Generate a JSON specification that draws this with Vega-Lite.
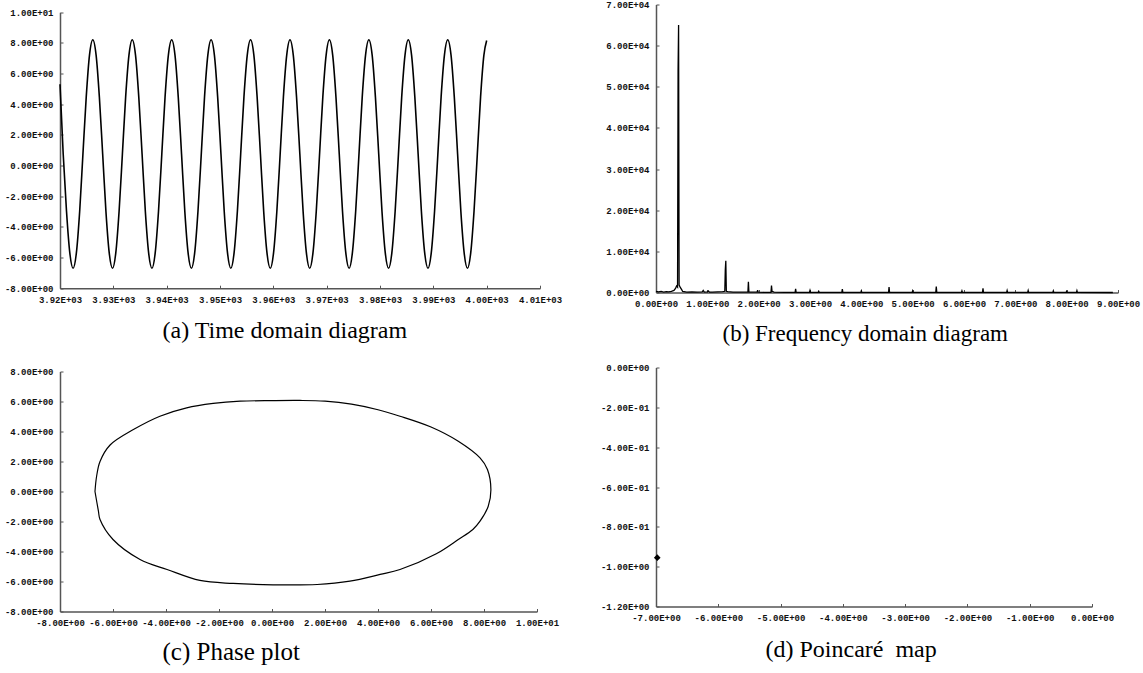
{
  "$schema": "https://vega.github.io/schema/vega-lite/v6.json",
  "padding": {"left": 4, "top": 0.5, "right": 5, "bottom": 5},
  "background": "white",
  "columns": 2,
  "bounds": "flush",
  "spacing": {"row": 75, "column": 116},
  "datasets": {
    "ts": [
      {"t": 3920, "v": 5.3}, {"t": 3920.6, "v": 0.75}, {"t": 3921.22, "v": -2.98}, {"t": 3921.84, "v": -5.7}, {"t": 3922.45, "v": -6.7}, {"t": 3923.07, "v": -5.7}, {"t": 3923.69, "v": -2.98}, {"t": 3924.3, "v": 0.75}, {"t": 3924.92, "v": 4.48}, {"t": 3925.53, "v": 7.2},
      {"t": 3926.15, "v": 8.2}, {"t": 3926.77, "v": 7.2}, {"t": 3927.38, "v": 4.48}, {"t": 3928.0, "v": 0.75}, {"t": 3928.61, "v": -2.98}, {"t": 3929.23, "v": -5.7}, {"t": 3929.85, "v": -6.7}, {"t": 3930.46, "v": -5.7}, {"t": 3931.08, "v": -2.98}, {"t": 3931.7, "v": 0.75}, {"t": 3932.31, "v": 4.48}, {"t": 3932.93, "v": 7.2},
      {"t": 3933.54, "v": 8.2}, {"t": 3934.16, "v": 7.2}, {"t": 3934.77, "v": 4.48}, {"t": 3935.39, "v": 0.75}, {"t": 3936.0, "v": -2.98}, {"t": 3936.62, "v": -5.7}, {"t": 3937.24, "v": -6.7}, {"t": 3937.85, "v": -5.7}, {"t": 3938.47, "v": -2.98}, {"t": 3939.09, "v": 0.75}, {"t": 3939.7, "v": 4.48}, {"t": 3940.32, "v": 7.2},
      {"t": 3940.94, "v": 8.2}, {"t": 3941.56, "v": 7.2}, {"t": 3942.17, "v": 4.48}, {"t": 3942.79, "v": 0.75}, {"t": 3943.4, "v": -2.98}, {"t": 3944.02, "v": -5.7}, {"t": 3944.64, "v": -6.7}, {"t": 3945.25, "v": -5.7}, {"t": 3945.87, "v": -2.98}, {"t": 3946.49, "v": 0.75}, {"t": 3947.1, "v": 4.48}, {"t": 3947.72, "v": 7.2},
      {"t": 3948.33, "v": 8.2}, {"t": 3948.95, "v": 7.2}, {"t": 3949.56, "v": 4.48}, {"t": 3950.18, "v": 0.75}, {"t": 3950.79, "v": -2.98}, {"t": 3951.41, "v": -5.7}, {"t": 3952.03, "v": -6.7}, {"t": 3952.64, "v": -5.7}, {"t": 3953.26, "v": -2.98}, {"t": 3953.88, "v": 0.75}, {"t": 3954.49, "v": 4.48}, {"t": 3955.11, "v": 7.2},
      {"t": 3955.73, "v": 8.2}, {"t": 3956.35, "v": 7.2}, {"t": 3956.96, "v": 4.48}, {"t": 3957.58, "v": 0.75}, {"t": 3958.19, "v": -2.98}, {"t": 3958.81, "v": -5.7}, {"t": 3959.43, "v": -6.7}, {"t": 3960.04, "v": -5.7}, {"t": 3960.66, "v": -2.98}, {"t": 3961.28, "v": 0.75}, {"t": 3961.89, "v": 4.48}, {"t": 3962.51, "v": 7.2},
      {"t": 3963.12, "v": 8.2}, {"t": 3963.74, "v": 7.2}, {"t": 3964.35, "v": 4.48}, {"t": 3964.97, "v": 0.75}, {"t": 3965.58, "v": -2.98}, {"t": 3966.2, "v": -5.7}, {"t": 3966.82, "v": -6.7}, {"t": 3967.43, "v": -5.7}, {"t": 3968.05, "v": -2.98}, {"t": 3968.67, "v": 0.75}, {"t": 3969.28, "v": 4.48}, {"t": 3969.9, "v": 7.2},
      {"t": 3970.51, "v": 8.2}, {"t": 3971.13, "v": 7.2}, {"t": 3971.74, "v": 4.48}, {"t": 3972.36, "v": 0.75}, {"t": 3972.97, "v": -2.98}, {"t": 3973.59, "v": -5.7}, {"t": 3974.21, "v": -6.7}, {"t": 3974.82, "v": -5.7}, {"t": 3975.44, "v": -2.98}, {"t": 3976.06, "v": 0.75}, {"t": 3976.67, "v": 4.48}, {"t": 3977.29, "v": 7.2},
      {"t": 3977.91, "v": 8.2}, {"t": 3978.53, "v": 7.2}, {"t": 3979.14, "v": 4.48}, {"t": 3979.76, "v": 0.75}, {"t": 3980.37, "v": -2.98}, {"t": 3980.99, "v": -5.7}, {"t": 3981.61, "v": -6.7}, {"t": 3982.22, "v": -5.7}, {"t": 3982.84, "v": -2.98}, {"t": 3983.46, "v": 0.75}, {"t": 3984.07, "v": 4.48}, {"t": 3984.69, "v": 7.2},
      {"t": 3985.3, "v": 8.2}, {"t": 3985.92, "v": 7.2}, {"t": 3986.53, "v": 4.48}, {"t": 3987.15, "v": 0.75}, {"t": 3987.76, "v": -2.98}, {"t": 3988.38, "v": -5.7}, {"t": 3989.0, "v": -6.7}, {"t": 3989.61, "v": -5.7}, {"t": 3990.23, "v": -2.98}, {"t": 3990.85, "v": 0.75}, {"t": 3991.46, "v": 4.48}, {"t": 3992.08, "v": 7.2},
      {"t": 3992.7, "v": 8.2}, {"t": 3993.32, "v": 7.2}, {"t": 3993.93, "v": 4.48}, {"t": 3994.55, "v": 0.75}, {"t": 3995.16, "v": -2.98}, {"t": 3995.78, "v": -5.7}, {"t": 3996.4, "v": -6.7}, {"t": 3997.01, "v": -5.7}, {"t": 3997.63, "v": -2.98}, {"t": 3998.25, "v": 0.75}, {"t": 3998.86, "v": 4.48}, {"t": 3999.48, "v": 7.2},
      {"t": 4000.0, "v": 8.15}
    ],
    "spec": [
      {"f": 0, "a": 300}, {"f": 0.05, "a": 150}, {"f": 0.1, "a": 250}, {"f": 0.15, "a": 100}, {"f": 0.2, "a": 200}, {"f": 0.25, "a": 150}, {"f": 0.3, "a": 300}, {"f": 0.35, "a": 500}, {"f": 0.38, "a": 1000}, {"f": 0.4, "a": 1600}, {"f": 0.42, "a": 1300},
      {"f": 0.43, "a": 54000}, {"f": 0.44, "a": 65000}, {"f": 0.45, "a": 1800}, {"f": 0.47, "a": 1300}, {"f": 0.5, "a": 700}, {"f": 0.52, "a": 250}, {"f": 0.6, "a": 100}, {"f": 0.7, "a": 150}, {"f": 0.8, "a": 100}, {"f": 0.9, "a": 150}, {"f": 0.92, "a": 500}, {"f": 0.94, "a": 100}, {"f": 1.0, "a": 150}, {"f": 1.02, "a": 400}, {"f": 1.04, "a": 100}, {"f": 1.1, "a": 100}, {"f": 1.2, "a": 150}, {"f": 1.3, "a": 200}, {"f": 1.34, "a": 300},
      {"f": 1.35, "a": 5600}, {"f": 1.36, "a": 7700}, {"f": 1.37, "a": 300}, {"f": 1.4, "a": 200}, {"f": 1.5, "a": 100}, {"f": 1.6, "a": 80}, {"f": 1.7, "a": 80}, {"f": 1.79, "a": 80}, {"f": 1.8, "a": 2600}, {"f": 1.81, "a": 100}, {"f": 1.9, "a": 80}, {"f": 1.97, "a": 80}, {"f": 1.98, "a": 600}, {"f": 1.99, "a": 80}, {"f": 2.1, "a": 50}, {"f": 2.24, "a": 50}, {"f": 2.25, "a": 1700}, {"f": 2.26, "a": 300}, {"f": 2.3, "a": 100}, {"f": 2.5, "a": 50},
      {"f": 2.71, "a": 50}, {"f": 2.72, "a": 900}, {"f": 2.73, "a": 50}, {"f": 2.99, "a": 50}, {"f": 3.0, "a": 500}, {"f": 3.01, "a": 50}, {"f": 3.16, "a": 30}, {"f": 3.17, "a": 300}, {"f": 3.18, "a": 30}, {"f": 3.62, "a": 30}, {"f": 3.63, "a": 800}, {"f": 3.64, "a": 30}, {"f": 3.99, "a": 30}, {"f": 4.0, "a": 400}, {"f": 4.01, "a": 30}, {"f": 4.53, "a": 30}, {"f": 4.54, "a": 1300}, {"f": 4.55, "a": 30}, {"f": 4.99, "a": 30}, {"f": 5.0, "a": 400}, {"f": 5.01, "a": 30},
      {"f": 5.45, "a": 30}, {"f": 5.46, "a": 1450}, {"f": 5.47, "a": 30}, {"f": 5.95, "a": 30}, {"f": 5.96, "a": 400}, {"f": 5.97, "a": 30}, {"f": 6.36, "a": 30}, {"f": 6.37, "a": 1000}, {"f": 6.38, "a": 30}, {"f": 6.83, "a": 30}, {"f": 6.84, "a": 500}, {"f": 6.85, "a": 30}, {"f": 7.24, "a": 30}, {"f": 7.25, "a": 500}, {"f": 7.26, "a": 30}, {"f": 7.73, "a": 30}, {"f": 7.74, "a": 400}, {"f": 7.75, "a": 30}, {"f": 7.99, "a": 30}, {"f": 8.0, "a": 300}, {"f": 8.01, "a": 30}, {"f": 8.19, "a": 30}, {"f": 8.2, "a": 450}, {"f": 8.21, "a": 30}, {"f": 8.9, "a": 0}
    ],
    "phase": [
      {"i": 1, "x": -6.68, "y": 0.0}, {"i": 2, "x": -6.62, "y": 1.0}, {"i": 3, "x": -6.49, "y": 2.0}, {"i": 4, "x": -6.11, "y": 3.1}, {"i": 5, "x": -5.23, "y": 4.13}, {"i": 6, "x": -4.23, "y": 5.02}, {"i": 7, "x": -3.22, "y": 5.58}, {"i": 8, "x": -2.22, "y": 5.87}, {"i": 9, "x": -1.2, "y": 6.02}, {"i": 10, "x": 0.0, "y": 6.06},
      {"i": 11, "x": 1.06, "y": 6.07}, {"i": 12, "x": 2.0, "y": 6.02}, {"i": 13, "x": 3.0, "y": 5.82}, {"i": 14, "x": 4.0, "y": 5.45}, {"i": 15, "x": 4.83, "y": 5.02}, {"i": 16, "x": 6.0, "y": 4.3}, {"i": 17, "x": 7.03, "y": 3.35}, {"i": 18, "x": 7.85, "y": 2.24}, {"i": 19, "x": 8.13, "y": 1.47}, {"i": 20, "x": 8.26, "y": 0.13},
      {"i": 21, "x": 8.16, "y": -0.98}, {"i": 22, "x": 7.85, "y": -1.98}, {"i": 23, "x": 7.58, "y": -2.53}, {"i": 24, "x": 7.03, "y": -3.2}, {"i": 25, "x": 6.2, "y": -4.15}, {"i": 26, "x": 4.83, "y": -5.2}, {"i": 27, "x": 4.08, "y": -5.53}, {"i": 28, "x": 2.94, "y": -5.98}, {"i": 29, "x": 1.7, "y": -6.2}, {"i": 30, "x": 0.04, "y": -6.22},
      {"i": 31, "x": -1.47, "y": -6.13}, {"i": 32, "x": -2.72, "y": -5.93}, {"i": 33, "x": -3.96, "y": -5.2}, {"i": 34, "x": -4.98, "y": -4.53}, {"i": 35, "x": -6.0, "y": -3.2}, {"i": 36, "x": -6.49, "y": -1.87}, {"i": 37, "x": -6.55, "y": -1.31}, {"i": 38, "x": -6.68, "y": 0.0}
    ],
    "poincare": [
      {"x": -6.98, "y": -0.955}
    ]
  },
  "concat": [
    {
      "width": 480,
      "height": 283.7,
      "data": {"name": "ts"},
      "mark": {"type": "line", "color": "#000", "strokeWidth": 1.6, "interpolate": "monotone"},
      "encoding": {
        "x": {"field": "t", "type": "quantitative",
          "scale": {"domain": [3920, 4010], "nice": false, "zero": false},
          "axis": {"values": [3920, 3930, 3940, 3950, 3960, 3970, 3980, 3990, 4000, 4010],
            "labelExpr": "datum.value == 0 ? '0.00E+00' : (datum.value < 0 ? '-' : '') + format(abs(datum.value) / pow(10, floor(log(abs(datum.value)) / LN10 + 1e-9)), '.2f') + 'E' + (floor(log(abs(datum.value)) / LN10 + 1e-9) < 0 ? '-' : '+') + format(abs(floor(log(abs(datum.value)) / LN10 + 1e-9)), '02d')",
            "title": "(a) Time domain diagram", "titleAlign": "left", "titleBaseline": "alphabetic", "titleX": 102, "titleY": 49}},
        "y": {"field": "v", "type": "quantitative",
          "scale": {"domain": [-8, 10], "range": [283.7, 7.7], "nice": false, "zero": false},
          "axis": {"values": [-8, -6, -4, -2, 0, 2, 4, 6, 8, 10],
            "labelExpr": "datum.value == 0 ? '0.00E+00' : (datum.value < 0 ? '-' : '') + format(abs(datum.value) / pow(10, floor(log(abs(datum.value)) / LN10 + 1e-9)), '.2f') + 'E' + (floor(log(abs(datum.value)) / LN10 + 1e-9) < 0 ? '-' : '+') + format(abs(floor(log(abs(datum.value)) / LN10 + 1e-9)), '02d')",
            "title": null}}
      }
    },
    {
      "width": 462,
      "height": 288,
      "data": {"name": "spec"},
      "mark": {"type": "line", "color": "#000", "strokeWidth": 1.3, "interpolate": "linear"},
      "encoding": {
        "x": {"field": "f", "type": "quantitative",
          "scale": {"domain": [0, 9], "nice": false, "zero": false},
          "axis": {"values": [0, 1, 2, 3, 4, 5, 6, 7, 8, 9],
            "labelExpr": "datum.value == 0 ? '0.00E+00' : (datum.value < 0 ? '-' : '') + format(abs(datum.value) / pow(10, floor(log(abs(datum.value)) / LN10 + 1e-9)), '.2f') + 'E' + (floor(log(abs(datum.value)) / LN10 + 1e-9) < 0 ? '-' : '+') + format(abs(floor(log(abs(datum.value)) / LN10 + 1e-9)), '02d')",
            "title": "(b) Frequency domain diagram", "titleFontSize": 23, "titleAlign": "left", "titleBaseline": "alphabetic", "titleX": 66, "titleY": 48}},
        "y": {"field": "a", "type": "quantitative",
          "scale": {"domain": [0, 70000], "nice": false, "zero": false},
          "axis": {"values": [0, 10000, 20000, 30000, 40000, 50000, 60000, 70000],
            "labelExpr": "datum.value == 0 ? '0.00E+00' : (datum.value < 0 ? '-' : '') + format(abs(datum.value) / pow(10, floor(log(abs(datum.value)) / LN10 + 1e-9)), '.2f') + 'E' + (floor(log(abs(datum.value)) / LN10 + 1e-9) < 0 ? '-' : '+') + format(abs(floor(log(abs(datum.value)) / LN10 + 1e-9)), '02d')",
            "title": null}}
      }
    },
    {
      "width": 477,
      "height": 244,
      "data": {"name": "phase"},
      "mark": {"type": "line", "color": "#000", "strokeWidth": 1.2, "interpolate": "catmull-rom"},
      "encoding": {
        "order": {"field": "i", "type": "quantitative"},
        "x": {"field": "x", "type": "quantitative",
          "scale": {"domain": [-8, 10], "nice": false, "zero": false},
          "axis": {"values": [-8, -6, -4, -2, 0, 2, 4, 6, 8, 10],
            "labelExpr": "datum.value == 0 ? '0.00E+00' : (datum.value < 0 ? '-' : '') + format(abs(datum.value) / pow(10, floor(log(abs(datum.value)) / LN10 + 1e-9)), '.2f') + 'E' + (floor(log(abs(datum.value)) / LN10 + 1e-9) < 0 ? '-' : '+') + format(abs(floor(log(abs(datum.value)) / LN10 + 1e-9)), '02d')",
            "title": "(c) Phase plot", "titleFontSize": 25, "titleAlign": "left", "titleBaseline": "alphabetic", "titleX": 102, "titleY": 48}},
        "y": {"field": "y", "type": "quantitative",
          "scale": {"domain": [-8, 8], "range": [244, 4], "nice": false, "zero": false},
          "axis": {"values": [-8, -6, -4, -2, 0, 2, 4, 6, 8],
            "labelExpr": "datum.value == 0 ? '0.00E+00' : (datum.value < 0 ? '-' : '') + format(abs(datum.value) / pow(10, floor(log(abs(datum.value)) / LN10 + 1e-9)), '.2f') + 'E' + (floor(log(abs(datum.value)) / LN10 + 1e-9) < 0 ? '-' : '+') + format(abs(floor(log(abs(datum.value)) / LN10 + 1e-9)), '02d')",
            "title": null}}
      }
    },
    {
      "width": 436,
      "height": 239,
      "data": {"name": "poincare"},
      "mark": {"type": "point", "shape": "diamond", "filled": true, "color": "#000", "size": 45, "opacity": 1},
      "encoding": {
        "x": {"field": "x", "type": "quantitative",
          "scale": {"domain": [-7, 0], "nice": false, "zero": false},
          "axis": {"values": [-7, -6, -5, -4, -3, -2, -1, 0],
            "labelExpr": "datum.value == 0 ? '0.00E+00' : (datum.value < 0 ? '-' : '') + format(abs(datum.value) / pow(10, floor(log(abs(datum.value)) / LN10 + 1e-9)), '.2f') + 'E' + (floor(log(abs(datum.value)) / LN10 + 1e-9) < 0 ? '-' : '+') + format(abs(floor(log(abs(datum.value)) / LN10 + 1e-9)), '02d')",
            "title": "(d) Poincaré\u00a0 map", "titleAlign": "left", "titleBaseline": "alphabetic", "titleX": 109, "titleY": 50}},
        "y": {"field": "y", "type": "quantitative",
          "scale": {"domain": [-1.2, 0], "nice": false, "zero": false},
          "axis": {"values": [-1.2, -1.0, -0.8, -0.6, -0.4, -0.2, 0],
            "labelExpr": "datum.value == 0 ? '0.00E+00' : (datum.value < 0 ? '-' : '') + format(abs(datum.value) / pow(10, floor(log(abs(datum.value)) / LN10 + 1e-9)), '.2f') + 'E' + (floor(log(abs(datum.value)) / LN10 + 1e-9) < 0 ? '-' : '+') + format(abs(floor(log(abs(datum.value)) / LN10 + 1e-9)), '02d')",
            "title": null}}
      }
    }
  ],
  "config": {
    "view": {"stroke": null},
    "axis": {
      "grid": false,
      "domainColor": "#555",
      "domainWidth": 1.5,
      "tickColor": "#555",
      "tickWidth": 1,
      "tickSize": -3,
      "labelFont": "Liberation Mono",
      "labelFontSize": 9,
      "labelFontWeight": "bold",
      "labelColor": "#111",
      "labelFlush": false,
      "labelOverlap": false,
      "labelPadding": 10,
      "titleFont": "Liberation Serif",
      "titleFontSize": 24,
      "titleFontWeight": "normal",
      "titleColor": "#000"
    }
  }
}
